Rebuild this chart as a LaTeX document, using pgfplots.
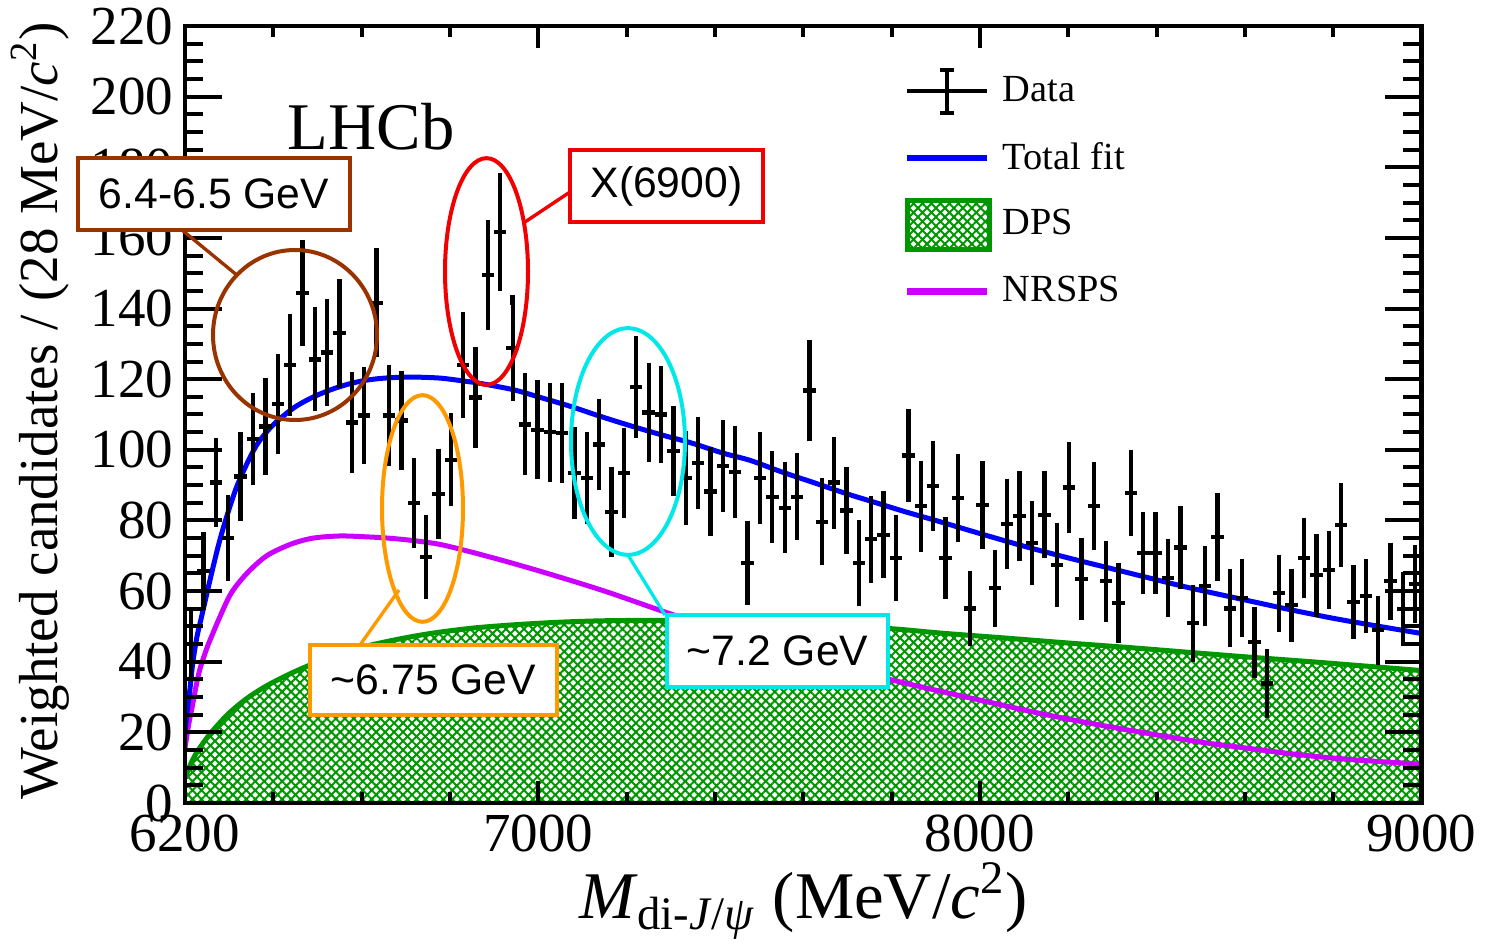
\documentclass[border=0pt]{standalone}
\usepackage{pgfplots}
\pgfplotsset{compat=1.18}
\usepackage{pgfplotstable}
\usepackage{fontspec}
\setmainfont{Liberation Serif}
\newfontfamily\arialfont{Liberation Sans}
\usetikzlibrary{patterns.meta}
\definecolor{dpsgreen}{RGB}{0,150,0}
\definecolor{nrspsmag}{RGB}{204,0,255}
\definecolor{annbrown}{RGB}{153,51,0}
\definecolor{annred}{RGB}{240,0,0}
\definecolor{annorange}{RGB}{255,153,0}
\definecolor{anncyan}{RGB}{0,232,232}

\pgfplotstableread{
x y ey
6214 45 8.5
6242 65.7 9.5
6270 90.7 11.1
6298 75 10.7
6326 92.4 11.1
6354 103 11.6
6382 106.6 12.3
6410 113 12.8
6438 124 13
6466 144.4 13.5
6494 125.6 13.3
6522 127.6 13.7
6550 133 14
6578 107.7 12.8
6606 109.7 12.3
6634 141.6 14
6662 109.7 13
6690 108.3 12.6
6718 85 11.4
6746 69.6 10.4
6774 87.5 11.4
6802 97.2 11.8
6830 124 13.5
6858 114.8 12.8
6886 149.5 14.1
6914 161.7 15.3
6942 128.8 13.5
6970 107.2 13
6998 105.7 12.6
7026 105 12.6
7054 104.8 12.8
7082 93.5 11.6
7110 92 11.6
7138 101.5 11.6
7166 82.4 11.4
7194 93.5 11.4
7222 117.7 13
7250 110.6 12.6
7278 110 12.3
7306 99.6 11.4
7334 92 11.8
7362 96.3 11.6
7390 88.2 11.1
7418 95.5 11.6
7446 93.8 11.6
7474 68 10.4
7502 92 11.7
7530 86.7 11.6
7558 83.6 11.4
7586 86.7 10.9
7614 116.8 13
7642 79.6 10.9
7670 90.7 11.6
7698 82.8 10.9
7726 67.9 10.8
7754 74.7 10.9
7782 75.9 10.9
7810 69.4 10.7
7838 98.4 11.8
7866 84 11.4
7894 89.8 11.4
7922 69.4 10.2
7950 86.4 11.1
7978 55.1 9.2
8006 84.4 11
8034 60.8 9.5
8062 79 11.4
8090 81.3 11.3
8118 73.6 10.5
8146 81.6 10.9
8174 67.4 10.5
8202 89.3 11.4
8230 63.4 10.1
8258 84.1 11
8286 62.8 10.1
8314 56.6 10
8342 87.8 10.8
8370 70.8 10.1
8398 70.8 10.1
8426 63.7 9.6
8454 72.3 10.3
8482 50.9 9.5
8510 61.4 9.9
8538 75.3 11
8566 55.1 9.6
8594 58 9.7
8622 45.5 8.7
8650 33.8 8.3
8678 59.4 9.5
8706 56 8.9
8734 69.4 10
8762 64.5 10.3
8790 66 9.6
8818 78.7 10.4
8846 56.9 9
8874 58.6 9.1
8902 48.9 8.3
8930 62.8 9.5
8958 55 9
8986 62 9.5
}\data

\pgfplotstableread{
x y
6200 20
6205 26
6211 32
6218 40
6227 47
6238 53
6249 59
6263 66.5
6279 74.5
6298 82.5
6317 89.5
6340 96
6363 101.5
6390 105.8
6415 108.8
6450 112.2
6491 115
6530 117
6567 118.5
6605 119.6
6642 120.2
6680 120.5
6718 120.6
6778 120.3
6830 119.5
6869 118.8
6944 117
7000 115
7073 112.3
7140 109.5
7209 106.8
7280 104.2
7345 102
7420 99
7480 97
7550 93.8
7624 90.7
7700 87.5
7760 85.2
7830 82.5
7900 80
8000 76.3
8100 72.7
8200 69.4
8300 66.3
8400 63.2
8479 60.8
8600 57.5
8700 54.8
8800 52.3
8900 50.1
9000 48
}\total

\pgfplotstableread{
x y
6200 15.6
6208 22
6216 27
6225 33
6234 38
6250 44
6263 48
6280 53
6305 59.5
6340 65
6385 70
6440 73.3
6490 75
6550 75.6
6604 75.4
6660 75
6717 74.3
6778 73.2
6850 71
6930 68.3
7021 65
7150 60
7284 54.2
7400 49.5
7500 45.5
7600 41.5
7700 38
7805 34.7
7912 31.6
8048 27.8
8150 25
8275 22
8381 19.7
8502 17.2
8600 15.6
8728 13.6
8850 12.2
9000 11
}\nrsps

\pgfplotstableread{
x y
6200 7
6211 10.5
6225 14
6250 18.5
6275 22.2
6302 25.7
6340 29.6
6385 33.2
6440 36.7
6490 39.4
6550 42
6604 44.2
6680 46.3
6756 48
6850 49.5
6950 50.5
7050 51.2
7150 51.6
7284 51.7
7400 51.3
7550 50.6
7700 50
7805 49.3
7912 48.1
8048 46.8
8200 45.3
8350 43.9
8479 42.6
8600 41.4
8750 40
8900 38.5
9000 37.5
}\dps

\begin{document}
\begin{tikzpicture}
\path[use as bounding box] (-55.5pt,-43.2pt) rectangle (390pt,240.9pt);
% main axis: plots, x ticks, labels, legend
\begin{axis}[
  at={(0,0)}, anchor=south west,
  scale only axis, width=370.95pt, height=233.1pt,
  xmin=6200, xmax=9000, ymin=0, ymax=220,
  axis on top,
  axis line style={line width=1.3pt},
  tick align=inside, tick pos=both,
  xtick={6200,7000,8000,9000},
  minor xtick={6400,6600,6800,7200,7400,7600,7800,8200,8400,8600,8800},
  ytick=\empty,
  major tick length=6.6pt, minor tick length=3.3pt,
  tick style={black, line width=1.2pt},
  scaled x ticks=false,
  /pgf/number format/assume math mode=true,
  /pgf/number format/1000 sep={},
  tick label style={font=\fontsize{16.5}{16.5}\selectfont},
  xlabel={\textit{M}\textsubscript{di-\textit{J}/\textit{ψ}} (MeV/\textit{c}\textsuperscript{2})},
  xlabel style={font=\fontsize{20}{20}\selectfont, at={(axis description cs:0.5,-0.149)}, anchor=base},
  ylabel={Weighted candidates / (28 MeV/\textit{c}\textsuperscript{2})},
  ylabel style={font=\fontsize{16.5}{16.5}\selectfont, at={(axis description cs:-0.1173,0.5045)}, anchor=center},
  legend style={at={(axis description cs:0.5807,0.9595)}, anchor=north west, draw=none, fill=none,
    inner sep=0pt, row sep=0pt, column sep=3.4pt, font=\fontsize{11.5}{11.5}\selectfont,
    nodes={inner sep=0pt}},
  legend cell align=left,
]
\addlegendimage{legend image code/.code={
  \path[draw=none,fill=none] (0pt,-10pt) rectangle (24pt,10pt);
  \draw[black, line width=1.2pt] (0pt,0pt) -- (24pt,0pt);
  \draw[black, line width=1.2pt] (12pt,-6.5pt) -- (12pt,6.5pt);
  \draw[black, line width=1.2pt] (10pt,-6.5pt) -- (14pt,-6.5pt);
  \draw[black, line width=1.2pt] (10pt,6.5pt) -- (14pt,6.5pt);
}}
\addlegendentry{Data}
\addlegendimage{legend image code/.code={
  \path[draw=none,fill=none] (0pt,-10pt) rectangle (24pt,10pt);
  \draw[blue, line width=2pt] (0pt,0pt) -- (24pt,0pt);
}}
\addlegendentry{Total fit}
\addlegendimage{legend image code/.code={
  \path[draw=none,fill=none] (0pt,-10pt) rectangle (24pt,10pt);
  \draw[dpsgreen, line width=1.5pt, pattern={Hatch[angle=45,distance=1.9pt,line width=0.6pt]}, pattern color=dpsgreen] (0pt,-7.4pt) rectangle (24.6pt,7.4pt);
}}
\addlegendentry{DPS}
\addlegendimage{legend image code/.code={
  \path[draw=none,fill=none] (0pt,-10pt) rectangle (24pt,10pt);
  \draw[nrspsmag, line width=2pt] (0pt,0pt) -- (24pt,0pt);
}}
\addlegendentry{NRSPS}

% DPS area
\addplot[draw=none, pattern={Hatch[angle=45,distance=1.9pt,line width=0.6pt]}, pattern color=dpsgreen, smooth, forget plot] table[x=x,y=y]{\dps} \closedcycle;
\addplot[dpsgreen, line width=1.5pt, smooth, forget plot] table[x=x,y=y]{\dps};
% NRSPS
\addplot[nrspsmag, line width=1.5pt, smooth, forget plot] table[x=x,y=y]{\nrsps};
% Total
\addplot[blue, line width=1.5pt, smooth, forget plot] table[x=x,y=y]{\total};
% Data: vertical error bars
\addplot[only marks, mark=*, mark size=0pt, mark options={draw=none, fill=none}, forget plot,
  error bars/.cd, y dir=both, y explicit, error mark=-,
  error bar style={black, line width=1.3pt},
  error mark options={black, line width=1.3pt, mark size=1.5pt}]
  table[x=x,y=y,y error=ey]{\data};
% Data: horizontal bin-width bars
\addplot[only marks, mark=*, mark size=0pt, mark options={draw=none, fill=none}, forget plot,
  error bars/.cd, x dir=both, x fixed=14, error mark=none,
  error bar style={black, line width=1.3pt}]
  table[x=x,y=y]{\data};
\end{axis}

% second axis: y ticks (longer) and y tick labels
\begin{axis}[
  at={(0,0)}, anchor=south west,
  scale only axis, width=370.95pt, height=233.1pt,
  xmin=6200, xmax=9000, ymin=0, ymax=220,
  axis on top,
  axis line style={line width=1.3pt},
  tick align=inside, tick pos=both,
  xtick=\empty,
  ytick={0,20,...,220},
  minor y tick num=3,
  major tick length=11pt, minor tick length=5.5pt,
  tick style={black, line width=1.2pt},
  scaled y ticks=false,
  /pgf/number format/assume math mode=true,
  tick label style={font=\fontsize{16.5}{16.5}\selectfont},
]
\end{axis}

\begin{scope}[x=0.3pt, y=-0.3pt, shift={(-55.5pt,240.9pt)}]
  \node[anchor=base west, inner sep=0pt, font=\fontsize{20}{20}\selectfont] at (287,150) {LHCb};
  % brown
  \draw[annbrown, line width=1.2pt] (295,335) ellipse [x radius=24.6pt, y radius=25.5pt];
  \draw[annbrown, line width=1pt] (182,230) -- (238,276);
  \draw[annbrown, line width=1pt, fill=white] (78,158) rectangle (350,230);
  \node[font=\arialfont\fontsize{12.8}{12.8}\selectfont] at (214,194) {6.4-6.5 GeV};
  % red
  \draw[annred, line width=1.2pt] (486.5,271.5) ellipse [x radius=12.45pt, y radius=34pt];
  \draw[annred, line width=1pt] (525,222) -- (570,192);
  \draw[annred, line width=1pt, fill=white] (570,150) rectangle (763,222);
  \node[font=\arialfont\fontsize{12.8}{12.8}\selectfont] at (666.5,186) {X(6900)};
  % orange
  \draw[annorange, line width=1.2pt] (422.5,508.5) ellipse [x radius=12.15pt, y radius=34pt];
  \draw[annorange, line width=1pt] (360,645) -- (399,590);
  \draw[annorange, line width=1pt, fill=white] (310,645) rectangle (557,715);
  \node[font=\arialfont\fontsize{12.8}{12.8}\selectfont] at (433.5,680) {\textasciitilde6.75 GeV};
  % cyan
  \draw[anncyan, line width=1.2pt] (628,441.5) ellipse [x radius=17.1pt, y radius=34pt];
  \draw[anncyan, line width=1pt] (628,555) -- (665,615);
  \draw[anncyan, line width=1pt, fill=white] (667,615) rectangle (888,687);
  \node[font=\arialfont\fontsize{12.8}{12.8}\selectfont] at (777.5,651) {\textasciitilde7.2 GeV};
\end{scope}
\end{tikzpicture}
\end{document}
